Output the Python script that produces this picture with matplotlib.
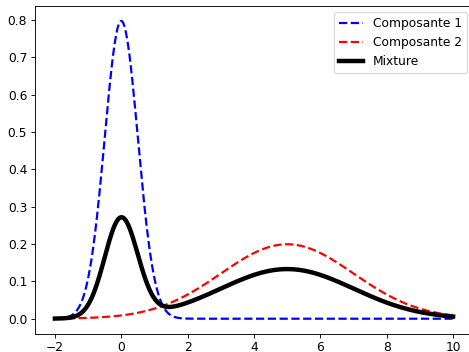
import numpy as np
from matplotlib import pyplot as plt

# mixture parameters
means = [0.0, 5.0]
sigmas = [0.5, 2.0]
weights = [1 / 3, 2 / 3]
labels = ["Composante 1", "Composante 2"]
colors = ["blue", "red"]

x = np.linspace(-2, 10, 500)


def gauss(x, mu, s):
	return np.exp(-(x - mu) ** 2 / (2 * s ** 2)) / (s * np.sqrt(2 * np.pi))


plt.rcParams["font.size"] = 11
fig = plt.figure(figsize=(469 / 80, 352 / 80), dpi=80)
ax = fig.add_axes([35 / 469, 18.4 / 352, 438 / 469, 327.6 / 352])

mix = np.zeros_like(x)
for mu, s, w, lab, c in zip(means, sigmas, weights, labels, colors):
	pdf = gauss(x, mu, s)
	ax.plot(x, pdf, "--", color=c, lw=2, label=lab)
	mix += w * pdf

ax.plot(x, mix, color="black", lw=4, label="Mixture")
ax.set_xticks(np.arange(-2, 11, 2))
ax.set_yticks(np.arange(0, 0.81, 0.1))
ax.legend(loc="upper right")

fig.savefig("out.png", dpi=80)
